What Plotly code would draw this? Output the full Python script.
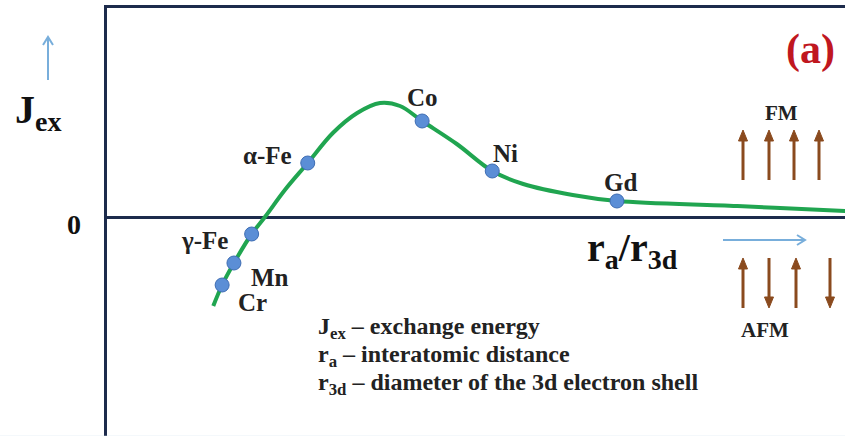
import plotly.graph_objects as go

# Bethe-Slater curve: J_ex versus r_a/r_3d (arbitrary units)
curve_x = [1.44, 1.56, 1.72, 1.96, 2.14, 2.41, 2.72, 3.06, 3.39, 3.70, 3.97, 4.27,
           4.74, 5.22, 5.64, 6.31, 6.91, 8.54, 10.0, 10.2]
curve_y = [-0.89, -0.68, -0.46, -0.17, 0.00, 0.27, 0.54, 0.84, 1.04, 1.14, 1.11, 0.96,
           0.73, 0.46, 0.33, 0.22, 0.16, 0.11, 0.06, 0.055]

elements = ["Cr", "Mn", "γ-Fe", "α-Fe", "Co", "Ni", "Gd"]
elem_x = [1.56, 1.72, 1.96, 2.72, 4.27, 5.22, 6.91]
elem_y = [-0.68, -0.46, -0.17, 0.54, 0.96, 0.46, 0.16]

legend_lines = [
    "J<sub>ex</sub> – exchange energy",
    "r<sub>a</sub> – interatomic distance",
    "r<sub>3d</sub> – diameter of the 3d electron shell",
]

NAVY = "#1d2b4c"
GREEN = "#20a550"
BLUE = "#5b8ed6"
BROWN = "#8a4a1e"
LBLUE = "#78aedb"
SERIF = "Liberation Serif"

fig = go.Figure()
fig.add_trace(go.Scatter(x=curve_x, y=curve_y, mode="lines",
                         line=dict(color=GREEN, width=4, shape="spline", smoothing=1.0),
                         hoverinfo="skip", showlegend=False))
fig.add_trace(go.Scatter(x=elem_x, y=elem_y, mode="markers", text=elements,
                         marker=dict(color=BLUE, size=14, line=dict(color="#3e6db3", width=1)),
                         showlegend=False))

# element labels: pixel offsets from their markers
label_shift = {"Cr": (30, -17), "Mn": (36, -14), "γ-Fe": (-47, -6), "α-Fe": (-40, 8),
               "Co": (0, 24), "Ni": (13, 18), "Gd": (4, 19)}
ann = []
for n, x, y in zip(elements, elem_x, elem_y):
    dx, dy = label_shift[n]
    ann.append(dict(x=x, y=y, xref="x", yref="y", text=f"<b>{n}</b>", showarrow=False,
                    xanchor="center", yanchor="middle",
                    xshift=dx, yshift=dy, font=dict(family=SERIF, size=25, color="#222")))

# axis labels and notes (paper coordinates, plot area 107..845 x 8..436 px)
def px(xp):
    return (xp - 107) / 738.0

def py(yp):
    return (436 - yp) / 428.0

def note(xp, yp, text, size, color="#111", xanchor="center"):
    ann.append(dict(x=px(xp), y=py(yp), xref="paper", yref="paper", xanchor=xanchor,
                    yanchor="middle", text=text, showarrow=False,
                    font=dict(family=SERIF, size=size, color=color)))

note(13, 112, "<b>J<sub>ex</sub></b>", 40, xanchor="left")
note(74, 224, "<b>0</b>", 28)
note(585, 250, "<b>r<sub>a</sub>/r<sub>3d</sub></b>", 40, xanchor="left")
note(810, 49, "<b>(a)</b>", 42, color="#c0171f")
note(781, 113, "<b>FM</b>", 21, color="#222")
note(765, 330, "<b>AFM</b>", 21, color="#222")
for i, t in enumerate(legend_lines):
    note(316, 328 + 28 * i, f"<b>{t}</b>", 24, color="#222", xanchor="left")

# decorative arrows drawn as shapes (pixel positions converted to paper units)
shapes = [dict(type="line", xref="paper", yref="paper", x0=-0.2, x1=1.0,
               y0=-0.002, y1=-0.002, line=dict(color="#d3e3f0", width=2))]

def pline(x0, y0, x1, y1, color, width):
    shapes.append(dict(type="line", xref="paper", yref="paper", x0=px(x0), y0=py(y0),
                       x1=px(x1), y1=py(y1), line=dict(color=color, width=width)))

def ppath(points, color, fill=True, width=1):
    d = "M " + " L ".join(f"{px(a):.5f},{py(b):.5f}" for a, b in points)
    if fill:
        d += " Z"
    shapes.append(dict(type="path", xref="paper", yref="paper", path=d,
                       fillcolor=color if fill else "rgba(0,0,0,0)",
                       line=dict(color=color, width=width)))

def spin(xp, tail, tip):
    sgn = 1 if tip < tail else -1  # 1 = pointing up
    base = tip + sgn * 11
    pline(xp, tail, xp, base, BROWN, 3)
    ppath([(xp - 4.5, base), (xp + 4.5, base), (xp, tip)], BROWN)

# blue direction arrows
pline(48, 80, 48, 37, LBLUE, 2)
ppath([(43, 45), (48, 37), (53, 45)], LBLUE, fill=False, width=2)
pline(723, 240, 805, 240, LBLUE, 2)
ppath([(797, 235), (805, 240), (797, 245)], LBLUE, fill=False, width=2)

# spin arrows: FM all up, AFM alternating
for xp in [743, 769, 794, 819]:
    spin(xp, 180, 130)
for xp, up in [(743, True), (769, False), (796, True), (830, False)]:
    if up:
        spin(xp, 308, 258)
    else:
        spin(xp, 258, 308)

fig.update_layout(
    width=845, height=436,
    margin=dict(l=107, r=0, t=8, b=0),
    plot_bgcolor="white", paper_bgcolor="white",
    annotations=ann,
    shapes=shapes,
    xaxis=dict(range=[0, 10], showgrid=False, zeroline=False, showticklabels=False,
               ticks="", showline=True, side="top", linecolor=NAVY, linewidth=3),
    yaxis=dict(range=[-2.19, 2.09], showgrid=False, zeroline=True, zerolinecolor=NAVY,
               zerolinewidth=3, showticklabels=False, ticks="", showline=True,
               linecolor=NAVY, linewidth=3),
)

fig.write_html("out.html")
